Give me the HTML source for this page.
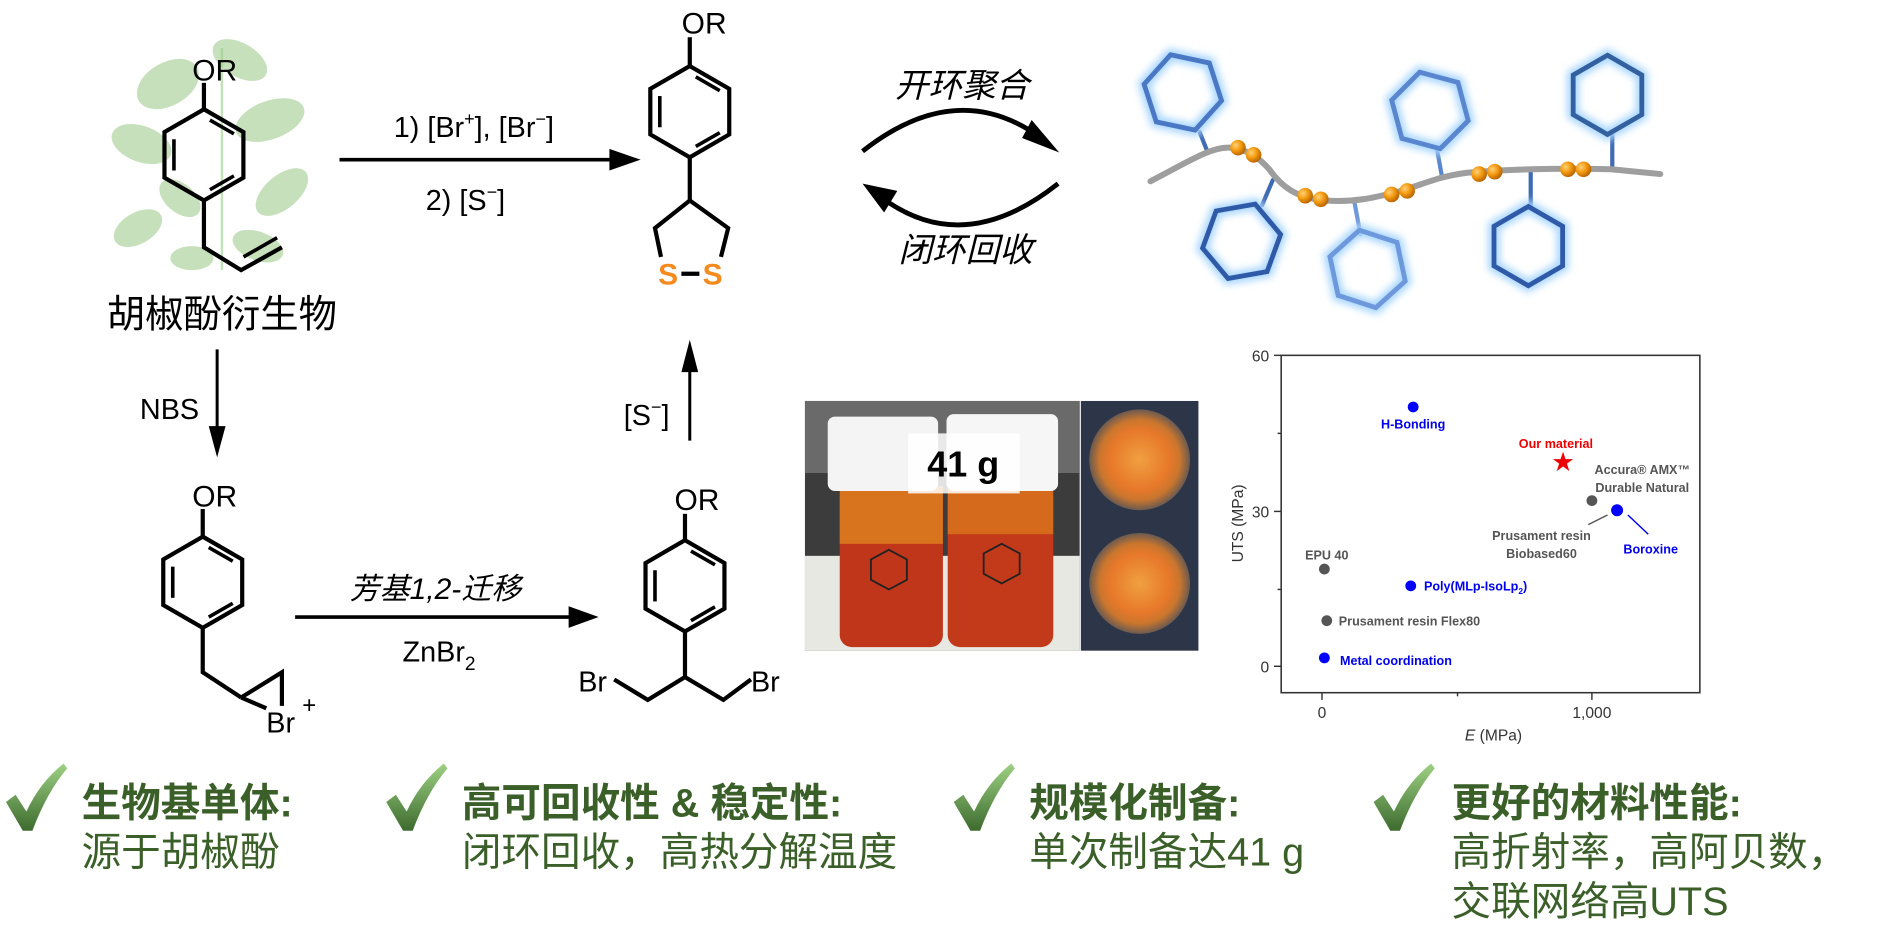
<!DOCTYPE html>
<html><head><meta charset="utf-8"><style>
html,body{margin:0;padding:0;background:#fff;}
svg{display:block;}
text{font-family:"Liberation Sans","Noto Sans CJK SC",sans-serif;}
</style></head><body>
<svg width="1881" height="946" viewBox="0 0 1568 788" preserveAspectRatio="none" xmlns="http://www.w3.org/2000/svg">
<defs>
<g id="ring">
<polygon points="0,-38 32.9,-19 32.9,19 0,38 -32.9,19 -32.9,-19" fill="none" stroke="#000" stroke-width="3.5" stroke-linejoin="miter"/>
<line x1="-25" y1="-13" x2="-25" y2="13" stroke="#000" stroke-width="3"/>
<line x1="5" y1="-29" x2="25" y2="-17.5" stroke="#000" stroke-width="3"/>
<line x1="25" y1="17.5" x2="5" y2="29" stroke="#000" stroke-width="3"/>
</g>
<polygon id="hx" points="0,-33 28.6,-16.5 28.6,16.5 0,33 -28.6,16.5 -28.6,-16.5"/>
<filter id="blur" x="-30%" y="-30%" width="160%" height="160%"><feGaussianBlur stdDeviation="3"/></filter>
<radialGradient id="bead" cx="0.35" cy="0.35" r="0.7"><stop offset="0" stop-color="#ffd27a"/><stop offset="0.5" stop-color="#f39a0f"/><stop offset="1" stop-color="#b35f00"/></radialGradient>
<linearGradient id="chk" x1="0" y1="0" x2="0" y2="1"><stop offset="0" stop-color="#9ed184"/><stop offset="1" stop-color="#3d6b2e"/></linearGradient>
<radialGradient id="jar" cx="0.5" cy="0.5" r="0.5"><stop offset="0" stop-color="#f0a040"/><stop offset="0.6" stop-color="#e7782a"/><stop offset="0.8" stop-color="#c9762e"/><stop offset="1" stop-color="#6b5a50"/></radialGradient>
<path id="tick" d="M0,28 L8,22 L17,36 Q28,12 48,-4 L51,0 Q34,20 22,52 L14,52 Z"/>
</defs>

<!-- plant -->
<g fill="#8cc27a" opacity="0.5">
<ellipse cx="140" cy="70" rx="28" ry="18" transform="rotate(-30 140 70)"/>
<ellipse cx="200" cy="50" rx="25" ry="14" transform="rotate(30 200 50)"/>
<ellipse cx="225" cy="100" rx="30" ry="16" transform="rotate(-20 225 100)"/>
<ellipse cx="118" cy="120" rx="26" ry="15" transform="rotate(20 118 120)"/>
<ellipse cx="235" cy="160" rx="26" ry="14" transform="rotate(-40 235 160)"/>
<ellipse cx="115" cy="190" rx="22" ry="13" transform="rotate(-30 115 190)"/>
<ellipse cx="215" cy="205" rx="22" ry="12" transform="rotate(20 215 205)"/>
<ellipse cx="160" cy="215" rx="18" ry="10"/>
<ellipse cx="150" cy="165" rx="20" ry="12" transform="rotate(40 150 165)"/>
</g>
<g stroke="#9bcf8a" stroke-width="2" opacity="0.6"><line x1="185" y1="40" x2="185" y2="225"/></g>

<!-- molecule 1 -->
<text x="179" y="67" font-size="25" text-anchor="middle">OR</text>
<line x1="170" y1="69" x2="170" y2="91" stroke="#000" stroke-width="3.5"/>
<use href="#ring" x="170" y="129"/>
<polyline points="170,167 170,206 201,225 235,206" fill="none" stroke="#000" stroke-width="3.5"/>
<line x1="203" y1="214" x2="231" y2="198" stroke="#000" stroke-width="3"/>
<text x="185" y="273" font-size="32" text-anchor="middle">胡椒酚衍生物</text>

<!-- arrow 1 -->
<line x1="283" y1="133" x2="512" y2="133" stroke="#000" stroke-width="3"/>
<polygon points="534,133 508,124 508,142" fill="#000"/>
<text x="395" y="114" font-size="24" text-anchor="middle">1) [Br<tspan font-size="15" dy="-10">+</tspan><tspan dy="10">], [Br</tspan><tspan font-size="15" dy="-10">−</tspan><tspan dy="10">]</tspan></text>
<text x="388" y="175" font-size="24" text-anchor="middle">2) [S<tspan font-size="15" dy="-10">−</tspan><tspan dy="10">]</tspan></text>

<!-- molecule 2 -->
<text x="587" y="28" font-size="25" text-anchor="middle">OR</text>
<line x1="575" y1="31" x2="575" y2="55" stroke="#000" stroke-width="3.5"/>
<use href="#ring" x="575" y="93"/>
<polyline points="575,131 575,167 607,190 601,214" fill="none" stroke="#000" stroke-width="3.5"/>
<polyline points="575,167 546,190 551,214" fill="none" stroke="#000" stroke-width="3.5"/>
<text x="557" y="237" font-size="25" font-weight="bold" fill="#f58a1f" text-anchor="middle">S</text>
<text x="594" y="237" font-size="25" font-weight="bold" fill="#f58a1f" text-anchor="middle">S</text>
<line x1="568" y1="228" x2="583" y2="228" stroke="#000" stroke-width="3.5"/>

<!-- cycle arrows -->
<path d="M719,126 Q800,62 872,118" fill="none" stroke="#000" stroke-width="4"/>
<polygon points="883,127 860,100 852,115" fill="#000"/>
<path d="M882,153 Q800,218 729,160" fill="none" stroke="#000" stroke-width="4"/>
<polygon points="719,153 748,159 737,177" fill="#000"/>
<text x="802" y="81" font-size="28" font-style="italic" text-anchor="middle">开环聚合</text>
<text x="805" y="218" font-size="28" font-style="italic" text-anchor="middle">闭环回收</text>

<!-- polymer -->
<g stroke-linecap="round">
<g stroke="#3f6bb5" stroke-width="3.5">
<line x1="1006" y1="125" x2="1000" y2="110"/>
<line x1="1061" y1="150" x2="1052" y2="171"/>
<line x1="1129" y1="168" x2="1134" y2="195" stroke="#6e98dc"/>
<line x1="1202" y1="147" x2="1198" y2="125" stroke="#5a86cf"/>
<line x1="1276" y1="143" x2="1276" y2="172"/>
<line x1="1344" y1="141" x2="1344" y2="113"/>
</g>
<g fill="none" stroke="#a8d6ff" stroke-width="10" filter="url(#blur)">
<use href="#hx" transform="translate(986,77) rotate(-18)"/>
<use href="#hx" transform="translate(1035,201) rotate(20)"/>
<use href="#hx" transform="translate(1140,224) rotate(-12)"/>
<use href="#hx" transform="translate(1192,92) rotate(-15)"/>
<use href="#hx" transform="translate(1274,205)"/>
<use href="#hx" transform="translate(1340,79)"/>
</g>
<g fill="none" stroke-width="4" stroke-linejoin="miter">
<use href="#hx" transform="translate(986,77) rotate(-18)" stroke="#4a78c4"/>
<use href="#hx" transform="translate(1035,201) rotate(20)" stroke="#2f5aa8"/>
<use href="#hx" transform="translate(1140,224) rotate(-12)" stroke="#6e98dc"/>
<use href="#hx" transform="translate(1192,92) rotate(-15)" stroke="#5a86cf"/>
<use href="#hx" transform="translate(1274,205)" stroke="#2f5aa8"/>
<use href="#hx" transform="translate(1340,79)" stroke="#33609f"/>
</g>
<path d="M959,151 C990,135 1010,122 1025,123 C1040,124 1050,132 1058,141 C1068,155 1080,165 1105,167 C1130,169 1148,164 1168,159 C1190,152 1200,147 1222,144 C1250,141 1300,140 1343,141 L1384,145" fill="none" stroke="#9e9e9e" stroke-width="5"/>
<g fill="url(#bead)">
<circle cx="1032" cy="123" r="6.5"/><circle cx="1045" cy="129" r="6.5"/>
<circle cx="1088" cy="163" r="6.5"/><circle cx="1101" cy="166" r="6.5"/>
<circle cx="1160" cy="162" r="6.5"/><circle cx="1173" cy="159" r="6.5"/>
<circle cx="1233" cy="145" r="6.5"/><circle cx="1246" cy="143" r="6.5"/>
<circle cx="1307" cy="141" r="6.5"/><circle cx="1320" cy="141" r="6.5"/>
</g>
</g>

<!-- NBS arrow -->
<line x1="181" y1="291" x2="181" y2="360" stroke="#000" stroke-width="2.5"/>
<polygon points="181,381 174,355 188,355" fill="#000"/>
<text x="166" y="349" font-size="24" text-anchor="end">NBS</text>

<!-- up arrow -->
<line x1="575" y1="367" x2="575" y2="305" stroke="#000" stroke-width="2.5"/>
<polygon points="575,283 568,310 582,310" fill="#000"/>
<text x="539" y="354" font-size="24" text-anchor="middle">[S<tspan font-size="15" dy="-10">−</tspan><tspan dy="10">]</tspan></text>

<!-- molecule 3 -->
<text x="179" y="422" font-size="25" text-anchor="middle">OR</text>
<line x1="169" y1="424" x2="169" y2="447" stroke="#000" stroke-width="3.5"/>
<use href="#ring" x="169" y="485"/>
<polyline points="169,523 169,560 201,581" fill="none" stroke="#000" stroke-width="3.5"/>
<polyline points="201,581 235,560 235,588" fill="none" stroke="#000" stroke-width="3.5"/>
<line x1="201" y1="581" x2="222" y2="590" stroke="#000" stroke-width="3.5"/>
<text x="222" y="610" font-size="24">Br</text>
<text x="252" y="594" font-size="20">+</text>

<!-- arrow 3 -->
<line x1="246" y1="514" x2="478" y2="514" stroke="#000" stroke-width="3"/>
<polygon points="499,514 474,505 474,523" fill="#000"/>
<text x="363" y="499" font-size="25" font-style="italic" text-anchor="middle">芳基1,2-迁移</text>
<text x="366" y="551" font-size="24" text-anchor="middle">ZnBr<tspan font-size="16" dy="7">2</tspan></text>

<!-- molecule 4 -->
<text x="581" y="425" font-size="25" text-anchor="middle">OR</text>
<line x1="571" y1="428" x2="571" y2="450" stroke="#000" stroke-width="3.5"/>
<use href="#ring" x="571" y="488"/>
<polyline points="571,526 571,564 540,583 512,566" fill="none" stroke="#000" stroke-width="3.5"/>
<polyline points="571,564 603,583 626,566" fill="none" stroke="#000" stroke-width="3.5"/>
<text x="482" y="576" font-size="24">Br</text>
<text x="626" y="576" font-size="24">Br</text>

<!-- photo -->
<rect x="671" y="334" width="229" height="208" fill="#3c3c3c"/>
<rect x="671" y="334" width="229" height="60" fill="#6a6a6a"/>
<rect x="671" y="463" width="229" height="79" fill="#e8e8e2"/>
<rect x="700" y="405" width="86" height="134" rx="10" fill="#c0361a"/>
<rect x="700" y="405" width="86" height="48" fill="#d9741e"/>
<rect x="790" y="405" width="88" height="134" rx="10" fill="#c33a1a"/>
<rect x="790" y="405" width="88" height="40" fill="#d66a1c"/>
<rect x="690" y="347" width="92" height="62" rx="6" fill="#f4f4f4"/>
<rect x="789" y="345" width="93" height="64" rx="6" fill="#f6f6f6"/>
<g stroke="#222" stroke-width="1.5" fill="none">
<polygon points="741,458 756,466 756,483 741,491 726,483 726,466"/>
<polygon points="835,453 850,461 850,478 835,486 820,478 820,461"/>
</g>
<rect x="757" y="361" width="93" height="50" fill="#fff" opacity="0.85"/>
<text x="803" y="397" font-size="30" font-weight="bold" text-anchor="middle">41 g</text>
<rect x="901" y="334" width="98" height="208" fill="#2c3648"/>
<circle cx="950" cy="383" r="42" fill="url(#jar)"/>
<circle cx="950" cy="486" r="42" fill="url(#jar)"/>

<!-- chart -->
<rect x="1068" y="296" width="349" height="281" fill="none" stroke="#333" stroke-width="1.3"/>
<g stroke="#333" stroke-width="1.2">
<line x1="1062" y1="296" x2="1068" y2="296"/><line x1="1062" y1="426" x2="1068" y2="426"/><line x1="1062" y1="555" x2="1068" y2="555"/>
<line x1="1065" y1="361" x2="1068" y2="361"/><line x1="1065" y1="491" x2="1068" y2="491"/>
<line x1="1102" y1="577" x2="1102" y2="583"/><line x1="1327" y1="577" x2="1327" y2="583"/><line x1="1215" y1="577" x2="1215" y2="580"/>
</g>
<g font-size="13" fill="#333">
<text x="1058" y="301" text-anchor="end">60</text>
<text x="1058" y="431" text-anchor="end">30</text>
<text x="1058" y="560" text-anchor="end">0</text>
<text x="1102" y="598" text-anchor="middle">0</text>
<text x="1327" y="598" text-anchor="middle">1,000</text>
<text x="1245" y="617" text-anchor="middle"><tspan font-style="italic">E</tspan> (MPa)</text>
<text transform="translate(1036,436) rotate(-90)" text-anchor="middle">UTS (MPa)</text>
</g>
<g font-size="10.5" font-weight="bold">
<circle cx="1178" cy="339" r="4.5" fill="#0000ff"/>
<text x="1178" y="357" fill="#0000ee" text-anchor="middle">H-Bonding</text>
<text x="1297" y="373" fill="#ee0000" text-anchor="middle">Our material</text>
<text x="1303" y="391" fill="#ee0000" font-size="18" text-anchor="middle">★</text>
<text x="1369" y="395" fill="#555" text-anchor="middle">Accura® AMX™</text>
<text x="1369" y="410" fill="#555" text-anchor="middle">Durable Natural</text>
<circle cx="1327" cy="417" r="4.5" fill="#555"/>
<circle cx="1348" cy="425" r="5" fill="#0000ff"/>
<text x="1285" y="450" fill="#555" text-anchor="middle">Prusament resin</text>
<text x="1285" y="465" fill="#555" text-anchor="middle">Biobased60</text>
<line x1="1324" y1="437" x2="1340" y2="429" stroke="#555" stroke-width="1.2"/>
<line x1="1374" y1="445" x2="1357" y2="429" stroke="#0000ee" stroke-width="1.2"/>
<text x="1376" y="461" fill="#0000ee" text-anchor="middle">Boroxine</text>
<text x="1106" y="466" fill="#555" text-anchor="middle">EPU 40</text>
<circle cx="1104" cy="474" r="4.5" fill="#555"/>
<circle cx="1176" cy="488" r="4.5" fill="#0000ff"/>
<text x="1187" y="492" fill="#0000ee">Poly(MLp-IsoLp<tspan font-size="7" dy="3">2</tspan><tspan dy="-3">)</tspan></text>
<circle cx="1106" cy="517" r="4.5" fill="#555"/>
<text x="1116" y="521" fill="#555">Prusament resin Flex80</text>
<circle cx="1104" cy="548" r="4.5" fill="#0000ff"/>
<text x="1117" y="554" fill="#0000ee">Metal coordination</text>
</g>

<!-- bottom checks -->
<g fill="url(#chk)">
<use href="#tick" x="5" y="640"/>
<use href="#tick" x="322" y="640"/>
<use href="#tick" x="795" y="640"/>
<use href="#tick" x="1145" y="640"/>
</g>
<g font-size="33" fill="#3a5f28">
<text x="68" y="680" font-weight="bold">生物基单体:</text>
<text x="68" y="721">源于胡椒酚</text>
<text x="385" y="680" font-weight="bold">高可回收性 &amp; 稳定性:</text>
<text x="385" y="721">闭环回收，高热分解温度</text>
<text x="858" y="680" font-weight="bold">规模化制备:</text>
<text x="858" y="721">单次制备达41 g</text>
<text x="1210" y="680" font-weight="bold">更好的材料性能:</text>
<text x="1210" y="721">高折射率，高阿贝数，</text>
<text x="1210" y="762">交联网络高UTS</text>
</g>
</svg>
</body></html>
